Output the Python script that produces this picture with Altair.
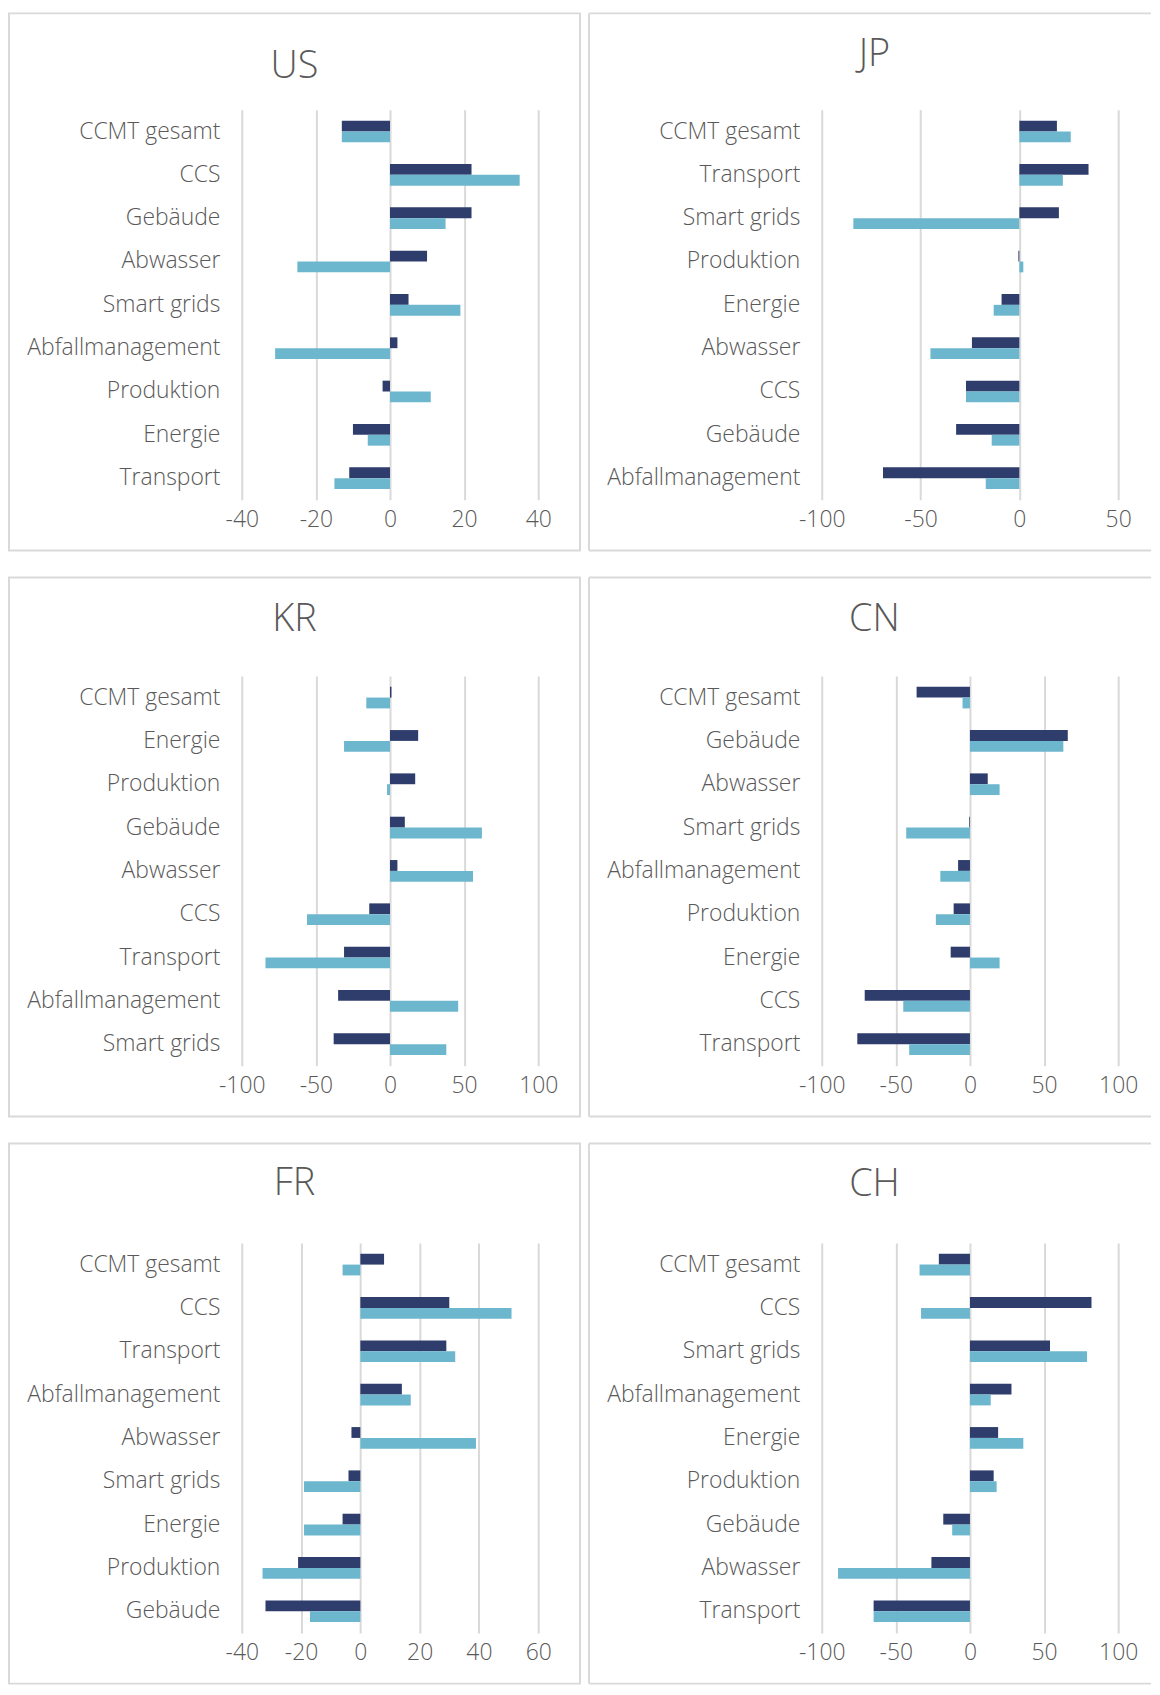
import altair as alt
import pandas as pd

SERIES = ["Serie 1", "Serie 2"]
COLORS = ["#2E3D6B", "#6DB7CE"]
TEXT = "#595959"
GRID = "#D9D9D9"
FONT = "Open Sans"

US_CATS = ["CCMT gesamt", "CCS", "Gebäude", "Abwasser", "Smart grids",
           "Abfallmanagement", "Produktion", "Energie", "Transport"]
US_S1 = [-13, 22, 22, 10, 5, 2, -2, -10, -11]
US_S2 = [-13, 35, 15, -25, 19, -31, 11, -6, -15]
US_TICKS = [-40, -20, 0, 20, 40]

JP_CATS = ["CCMT gesamt", "Transport", "Smart grids", "Produktion", "Energie",
           "Abwasser", "CCS", "Gebäude", "Abfallmanagement"]
JP_S1 = [19, 35, 20, -0.5, -9, -24, -27, -32, -69]
JP_S2 = [26, 22, -84, 2, -13, -45, -27, -14, -17]
JP_TICKS = [-100, -50, 0, 50]

KR_CATS = ["CCMT gesamt", "Energie", "Produktion", "Gebäude", "Abwasser",
           "CCS", "Transport", "Abfallmanagement", "Smart grids"]
KR_S1 = [1, 19, 17, 10, 5, -14, -31, -35, -38]
KR_S2 = [-16, -31, -2, 62, 56, -56, -84, 46, 38]
KR_TICKS = [-100, -50, 0, 50, 100]

CN_CATS = ["CCMT gesamt", "Gebäude", "Abwasser", "Smart grids", "Abfallmanagement",
           "Produktion", "Energie", "CCS", "Transport"]
CN_S1 = [-36, 66, 12, -0.5, -8, -11, -13, -71, -76]
CN_S2 = [-5, 63, 20, -43, -20, -23, 20, -45, -41]
CN_TICKS = [-100, -50, 0, 50, 100]

FR_CATS = ["CCMT gesamt", "CCS", "Transport", "Abfallmanagement", "Abwasser",
           "Smart grids", "Energie", "Produktion", "Gebäude"]
FR_S1 = [8, 30, 29, 14, -3, -4, -6, -21, -32]
FR_S2 = [-6, 51, 32, 17, 39, -19, -19, -33, -17]
FR_TICKS = [-40, -20, 0, 20, 40, 60]

CH_CATS = ["CCMT gesamt", "CCS", "Smart grids", "Abfallmanagement", "Energie",
           "Produktion", "Gebäude", "Abwasser", "Transport"]
CH_S1 = [-21, 82, 54, 28, 19, 16, -18, -26, -65]
CH_S2 = [-34, -33, 79, 14, 36, 18, -12, -89, -65]
CH_TICKS = [-100, -50, 0, 50, 100]

W, H = 298, 392
BOTTOM, LEFT = 51, 234


def panel(name, cats, s1, s2, ticks, title_dy, top_gap, right=False):
    df = pd.DataFrame({
        "Kategorie": cats * 2,
        "Serie": [SERIES[0]] * len(cats) + [SERIES[1]] * len(cats),
        "Wert": s1 + s2,
    })
    bars = alt.Chart(df).mark_bar().encode(
        x=alt.X("Wert:Q", stack=None,
                scale=alt.Scale(domain=[ticks[0], ticks[-1]], nice=False, zero=False),
                axis=alt.Axis(values=ticks, title=None, domain=False, ticks=False,
                              grid=True, gridColor=GRID, gridWidth=2,
                              labelFont=FONT, labelFontSize=23, labelFontWeight=300,
                              labelColor=TEXT,
                              labelPadding=9, labelExpr="toString(datum.value)",
                              labelFlush=False)),
        y=alt.Y("Kategorie:N", sort=cats,
                scale=alt.Scale(paddingInner=0.5, paddingOuter=0.25),
                axis=alt.Axis(title=None, domain=False, ticks=False, grid=False,
                              labelFont=FONT, labelFontSize=23, labelFontWeight=300,
                              labelColor=TEXT,
                              labelPadding=22, labelLimit=400)),
        yOffset=alt.YOffset("Serie:N", sort=SERIES),
        color=alt.Color("Serie:N", scale=alt.Scale(domain=SERIES, range=COLORS),
                        legend=None),
    )
    one = alt.Data(values=[{"t": name}])
    title = alt.Chart(one).mark_text(
        font=FONT, fontSize=38, fontWeight=300, color=TEXT, align="center",
        baseline="middle"
    ).encode(x=alt.value(53), y=alt.value(title_dy), text="t:N")
    if not right:
        frame = alt.Chart(one).mark_rect(
            filled=False, stroke=GRID, strokeWidth=2
        ).encode(x=alt.value(-LEFT), x2=alt.value(W + 42),
                 y=alt.value(-top_gap), y2=alt.value(H + BOTTOM))
        layers = [frame, bars, title]
    else:
        xr = W + 33
        top = alt.Chart(one).mark_rule(color=GRID, strokeWidth=2).encode(
            x=alt.value(-LEFT), x2=alt.value(xr), y=alt.value(-top_gap))
        left = alt.Chart(one).mark_rule(color=GRID, strokeWidth=2).encode(
            x=alt.value(-LEFT), y=alt.value(-top_gap), y2=alt.value(H + BOTTOM))
        bot = alt.Chart(one).mark_rule(color=GRID, strokeWidth=2).encode(
            x=alt.value(-LEFT), x2=alt.value(xr), y=alt.value(H + BOTTOM))
        layers = [top, left, bot, bars, title]
    return alt.layer(*layers).properties(width=W, height=H)


us = panel("US", US_CATS, US_S1, US_S2, US_TICKS, -43, 97)
jp = panel("JP", JP_CATS, JP_S1, JP_S2, JP_TICKS, -55, 97, right=True)
kr = panel("KR", KR_CATS, KR_S1, KR_S2, KR_TICKS, -56, 99)
cn = panel("CN", CN_CATS, CN_S1, CN_S2, CN_TICKS, -56, 99, right=True)
fr = panel("FR", FR_CATS, FR_S1, FR_S2, FR_TICKS, -59, 100)
ch = panel("CH", CH_CATS, CH_S1, CH_S2, CH_TICKS, -58, 100, right=True)

chart = alt.vconcat(
    alt.hconcat(us, jp, spacing=7).resolve_scale(x="independent", y="independent", color="shared"),
    alt.hconcat(kr, cn, spacing=7).resolve_scale(x="independent", y="independent", color="shared"),
    alt.hconcat(fr, ch, spacing=7).resolve_scale(x="independent", y="independent", color="shared"),
    spacing=25,
).resolve_scale(x="independent", y="independent").properties(
    padding=0, background="white"
).configure_view(stroke=None)

chart.save("out.html", embed_options={"renderer": "svg", "actions": False})
